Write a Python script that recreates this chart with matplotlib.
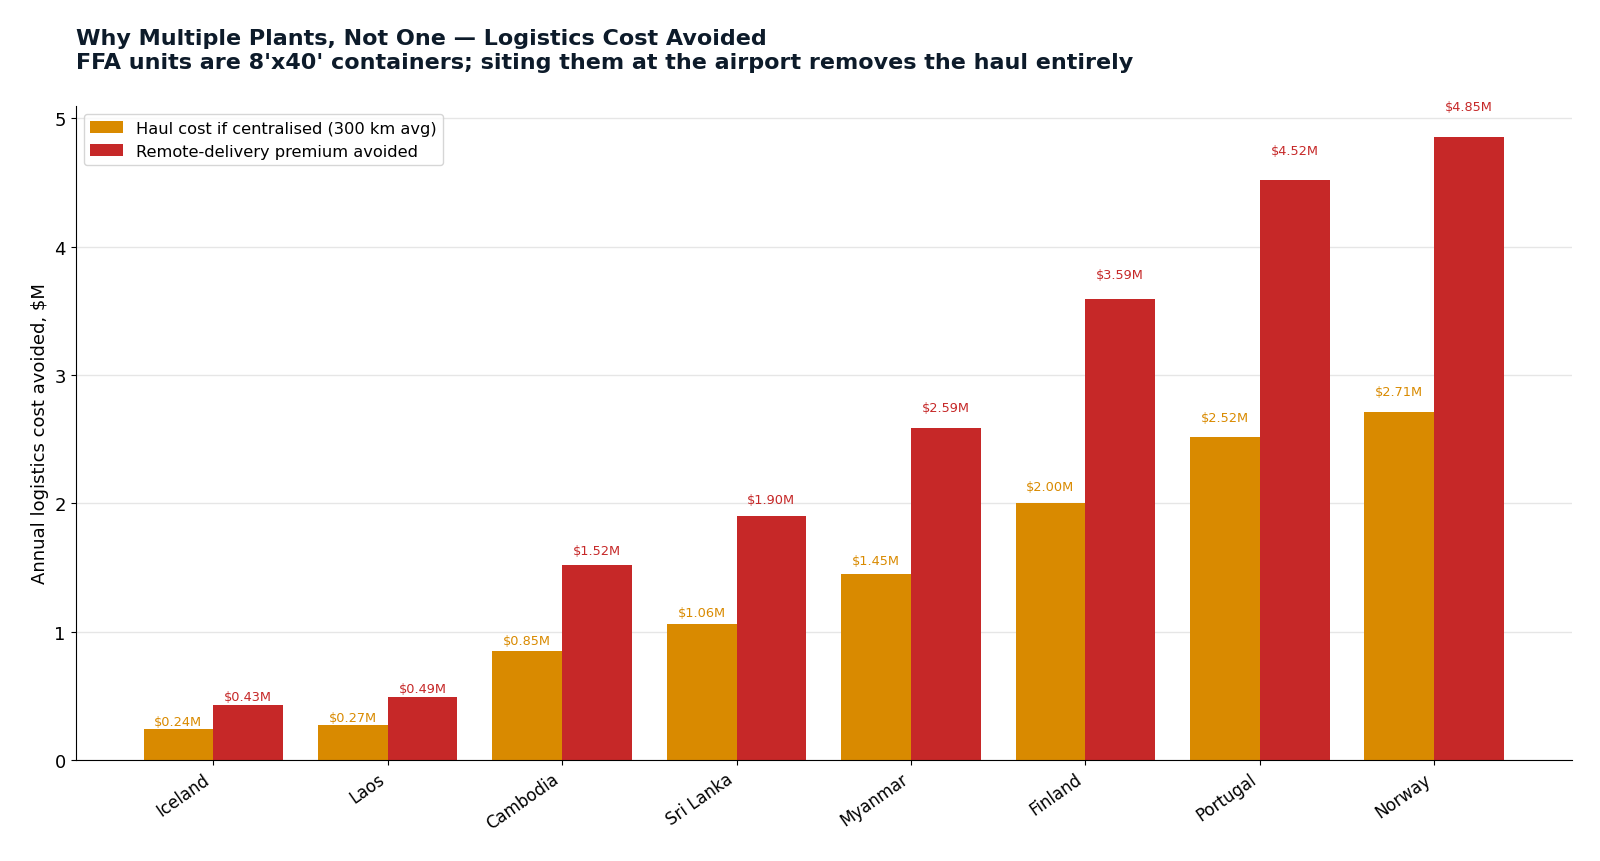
import matplotlib
matplotlib.use("Agg")
import matplotlib.pyplot as plt
import numpy as np

countries = ["Iceland", "Laos", "Cambodia", "Sri Lanka", "Myanmar", "Finland", "Portugal", "Norway"]
haul_cost = [0.24, 0.27, 0.85, 1.06, 1.45, 2.00, 2.52, 2.71]
remote_premium = [0.43, 0.49, 1.52, 1.90, 2.59, 3.59, 4.52, 4.85]

ORANGE = "#d98a00"
RED = "#c62828"
NAVY = "#0d1b2a"

fig = plt.figure(figsize=(16, 8.62), dpi=100)
L, R, B, T = 75.5, 1572, 761, 107
ax = fig.add_axes([L/1600, 1-B/862, (R-L)/1600, (B-T)/862])

x = np.arange(len(countries))
w = 0.4
ax.bar(x - w/2, haul_cost, w, color=ORANGE, label="Haul cost if centralised (300 km avg)", zorder=2)
ax.bar(x + w/2, remote_premium, w, color=RED, label="Remote-delivery premium avoided", zorder=2)

for xi, v in zip(x - w/2, haul_cost):
    ax.text(xi, v*1.04 + 0.05, f"${v:.2f}M", ha="center", va="center", fontsize=9.3, color=ORANGE)
for xi, v in zip(x + w/2, remote_premium):
    ax.text(xi, v*1.04 + 0.05, f"${v:.2f}M", ha="center", va="center", fontsize=9.3, color=RED)

ax.set_xticks(x)
ax.set_xticklabels(countries, rotation=35, ha="right", fontsize=12)
ax.set_ylim(0, 5.095)
ax.set_yticks([0, 1, 2, 3, 4, 5])
ax.tick_params(axis="y", labelsize=13)
ax.set_ylabel("Annual logistics cost avoided, $M", fontsize=13)
ax.grid(axis="y", color="#e6e6e6", linewidth=1, zorder=0)
ax.set_axisbelow(True)
for s in ["top", "right"]:
    ax.spines[s].set_visible(False)

ax.legend(loc="upper left", fontsize=11.7, frameon=True)

fig.text(L/1600, 1-51/862, "Why Multiple Plants, Not One — Logistics Cost Avoided\nFFA units are 8'x40' containers; siting them at the airport removes the haul entirely",
         ha="left", va="center", fontsize=16, fontweight="bold", color=NAVY, linespacing=1.25)

fig.savefig("out.png", dpi=100)
